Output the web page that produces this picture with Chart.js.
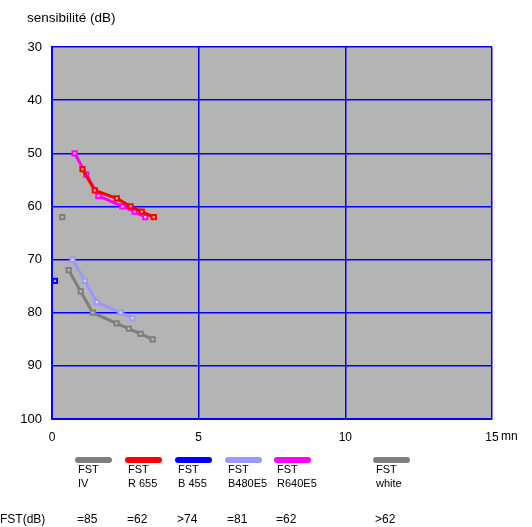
<!DOCTYPE html>
<html><head><meta charset="utf-8">
<script src="https://cdn.jsdelivr.net/npm/chart.js@4"></script>
<style>
html,body{margin:0;padding:0;background:#fff;}
#wrap{position:relative;width:532px;height:527px;font-family:"Liberation Sans",Arial,sans-serif;color:#000;}
canvas{position:absolute;left:0;top:0;}
.t{position:absolute;font-size:11px;line-height:13px;white-space:nowrap;}
.bar{position:absolute;height:6px;width:37px;border-radius:3px;}
</style></head><body>
<div id="wrap"><canvas id="c" width="532" height="527"></canvas></div>
<script>
// Data
const ivX = [0.57, 0.98, 1.39, 2.2, 2.62, 3.02, 3.43];
const ivY = [72, 76, 80, 82, 83, 84, 85];
const r655X = [1.04, 1.46, 2.21, 2.68, 3.06, 3.47];
const r655Y = [53, 57, 58.5, 60, 61, 62];
const b455X = [0.1];
const b455Y = [74];
const b480X = [0.7, 1.12, 1.53, 2.34, 2.74];
const b480Y = [70, 74, 78, 80, 81];
const r640X = [0.77, 1.17, 1.58, 2.4, 2.82, 3.18];
const r640Y = [50, 54, 58, 60, 61, 62];
const whiteX = [0.35];
const whiteY = [62];
const legendNames = ["IV", "R 655", "B 455", "B480E5", "R640E5", "white"];
const fstValues = ["=85", "=62", ">74", "=81", "=62", ">62"];
const xTicks = [0, 5, 10, 15];

const pts = (xs, ys) => xs.map((x, i) => ({x: x, y: ys[i]}));
function ds(label, xs, ys, color, fill) {
  return {label, data: pts(xs, ys), borderColor: color, backgroundColor: color,
    borderWidth: 3, pointStyle: 'rect', pointRadius: 3, pointBorderWidth: 2,
    pointBorderColor: color, pointBackgroundColor: fill, tension: 0, showLine: true};
}
const colors = ["#7f7f7f", "#ff0000", "#0000ff", "#9999ff", "#ff00ff", "#7f7f7f"];
const fills = ["#bdbdbd", "#ffb0b0", "#b0b0ff", "#dcdcff", "#ffc0ff", "#bdbdbd"];

const bgPlugin = {id: 'bg', beforeDraw(chart) {
  const a = chart.chartArea, ctx = chart.ctx;
  ctx.save(); ctx.fillStyle = '#b4b4b4';
  ctx.fillRect(a.left, a.top, a.right - a.left, a.bottom - a.top); ctx.restore();
}};

new Chart(document.getElementById('c'), {
  type: 'scatter',
  data: {datasets: [
    ds('FST IV', ivX, ivY, colors[0], fills[0]),
    ds('FST R 655', r655X, r655Y, colors[1], fills[1]),
    ds('FST B 455', b455X, b455Y, colors[2], fills[2]),
    ds('FST B480E5', b480X, b480Y, colors[3], fills[3]),
    ds('FST R640E5', r640X, r640Y, colors[4], fills[4]),
    ds('FST white', whiteX, whiteY, colors[5], fills[5])
  ]},
  options: {
    responsive: false, animation: false, devicePixelRatio: 1,
    layout: {padding: {left: 0, top: 47, right: 40, bottom: 0}},
    plugins: {legend: {display: false}, tooltip: {enabled: false}},
    scales: {
      x: {type: 'linear', min: 0, max: 15,
        afterBuildTicks(s) { s.ticks = xTicks.map(v => ({value: v})); },
        afterFit(s) { s.height = 108; },
        grid: {color: '#0000ff', lineWidth: 1.5, drawTicks: false},
        border: {color: '#0000ff', width: 2},
        ticks: {color: '#000', padding: 11, maxRotation: 0, font: {family: 'Liberation Sans', size: 12}}},
      y: {type: 'linear', min: 30, max: 100, reverse: true,
        ticks: {stepSize: 10, color: '#000', padding: 10, font: {family: 'Liberation Sans', size: 13}},
        afterFit(s) { s.width = 52; },
        grid: {color: '#0000ff', lineWidth: 1.5, drawTicks: false},
        border: {color: '#0000ff', width: 2}}
    }
  },
  plugins: [bgPlugin]
});

// HTML legend & annotations
const wrap = document.getElementById('wrap');
function addText(txt, x, y, size) {
  const d = document.createElement('div'); d.className = 't';
  d.style.left = x + 'px'; d.style.top = y + 'px';
  if (size) d.style.fontSize = size + 'px';
  d.textContent = txt; wrap.appendChild(d); return d;
}
addText('sensibilité (dB)', 27, 11, 13.5);
addText('mn', 501, 430, 12);
const legX = [75, 125, 175, 225, 274, 373];
legendNames.forEach((n, i) => {
  const b = document.createElement('div'); b.className = 'bar';
  b.style.left = legX[i] + 'px'; b.style.top = 457 + 'px'; b.style.background = colors[i];
  wrap.appendChild(b);
  addText('FST', legX[i] + 3, 463);
  addText(n, legX[i] + 3, 477);
  addText(fstValues[i], legX[i] + 2, 513, 12);
});
addText('FST(dB)', 0, 513, 12);
</script>
</body></html>
